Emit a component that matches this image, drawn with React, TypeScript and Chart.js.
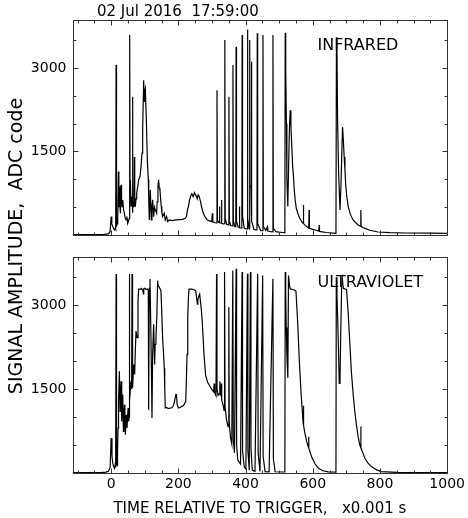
import { useEffect, useRef } from "react";
import { Chart, registerables } from "chart.js";

Chart.register(...registerables);

// ---- data (time in ms, ADC code) ----
const irTrace: [number, number][] = [
  [-115, 8], [-60, 8], [-20, 10], [-8, 20], [-3, 60], [0, 330], [2, 200], [5, 150], [8, 110], [10, 90],
  [12, 120], [13.5, 100], [14.7, 3050], [16, 150], [17.5, 200], [19.6, 270], [21.6, 1140], [23, 500],
  [24.5, 870], [26, 550], [27.5, 390], [29.5, 900], [31, 600], [32.5, 510], [34.5, 630], [37, 450],
  [39.4, 390], [42, 300], [44.4, 270], [47, 330], [49.3, 210], [52.3, 270], [54.2, 300], [55.2, 3590],
  [56.3, 600], [57.2, 990], [59.2, 510], [62.2, 690], [63.3, 400], [64.1, 2480], [65, 600], [66.1, 510],
  [68, 700], [69.1, 1400], [70.2, 700], [72, 510], [74, 650], [76, 750], [79, 870], [82, 990],
  [85.9, 1050], [88.9, 1230], [91.9, 1470], [93.8, 1890], [96.8, 2780], [98.5, 2400], [99.8, 2580],
  [101.7, 2630], [104.7, 2070], [107.7, 1350], [110.6, 990], [112, 600], [113.6, 270], [116.6, 810],
  [119.5, 270], [121.5, 500], [123.5, 630], [126.5, 330], [129, 500], [131.4, 450], [135.4, 390],
  [137, 600], [139.3, 870], [141.3, 990], [143, 850], [145.2, 810], [149.2, 510], [151, 400],
  [153.1, 330], [158, 390], [161, 270], [165, 330], [168, 240], [172.9, 270], [182, 260], [192.6, 270],
  [202, 275], [212.3, 280], [220, 300], [224.2, 330], [227, 450], [230, 510], [233, 620], [236.8, 700],
  [240, 740], [244, 690], [248, 760], [251, 720], [254, 690], [256, 650], [259, 720], [262, 690],
  [266, 600], [270, 480], [275, 380], [280, 320], [286, 270], [295, 250], [299.5, 240], [301, 390],
  [302.5, 235], [310, 220], [314, 215], [315, 2600], [316.3, 260], [320, 230], [322, 225], [322.6, 510],
  [323.3, 220], [327.8, 215], [328.5, 630], [329.3, 210], [334, 200], [337.5, 205], [338.3, 3500],
  [339.5, 300], [344, 190], [349.5, 180], [350.5, 2480], [351.7, 250], [356, 170], [361.5, 165],
  [362.5, 3050], [363.7, 260], [368, 150], [371, 150], [371.8, 3380], [373, 250], [378, 140],
  [381.2, 135], [381.8, 510], [382.5, 130], [389, 125], [389.8, 3590], [391, 350], [396, 120],
  [402, 110], [405, 110], [405.6, 3690], [406.8, 300], [411, 110], [412.4, 3500], [413.5, 900],
  [416.7, 850], [417.4, 3110], [418.6, 250], [425, 100], [431, 90], [434, 90], [434.8, 3620],
  [436, 200], [445, 80], [451, 80], [451.8, 3590], [453, 150], [460, 80], [465, 150], [466, 70],
  [475, 60], [480.7, 55], [481.5, 3590], [482.7, 120], [490, 60], [500, 50], [510, 45], [517, 40],
  [518, 3630], [519, 3470], [520, 3000], [521.5, 2000], [523, 1000], [525.8, 510], [528, 1200],
  [530.5, 1900], [532.8, 2240], [535, 1950], [537.7, 1580], [540, 1250], [542.6, 1050], [545, 800],
  [547.6, 630], [551, 480], [555.5, 390], [561, 300], [567.3, 240], [571, 210], [572, 540], [573, 205],
  [580, 160], [588, 125], [589, 450], [590, 120], [600, 100], [610, 85], [618, 70], [619, 180],
  [620, 65], [640, 45], [660, 35], [669, 30], [670.5, 3550], [672, 3300], [674, 2000], [677, 1100],
  [681, 450], [684, 900], [686.5, 1500], [688.7, 1940], [691, 1700], [693.5, 1400], [695.7, 1170],
  [698, 900], [701, 700], [705.5, 510], [712, 370], [720, 270], [728, 220], [735, 180], [742, 160],
  [743, 450], [744, 155], [750, 130], [755, 120], [770, 85], [794, 54], [830, 42], [877, 36],
  [950, 32], [1000, 30],
];

const uvTrace: [number, number][] = [
  [-115, 5], [-60, 5], [-30, 8], [-15, 15], [-8, 30], [-3, 100], [0, 623], [2.5, 300], [4.9, 174],
  [7, 120], [9.9, 84], [12, 150], [13.5, 100], [14.7, 3557], [16, 200], [17.7, 130], [19, 400],
  [20.6, 803], [22, 1300], [24.5, 1820], [26.5, 1102], [28, 1400], [29.5, 1640], [31.5, 922],
  [33, 1200], [34.5, 1401], [36.5, 743], [38, 1000], [39.4, 1221], [41, 900], [42.4, 683],
  [44.4, 1042], [46, 900], [47.3, 803], [50.3, 1162], [52.3, 922], [53.3, 1000], [54.2, 3557],
  [55.2, 1300], [56.2, 1401], [59.2, 1640], [61, 1500], [62.2, 3557], [63.3, 1600], [64.1, 1521],
  [67.1, 1940], [70, 1760], [72, 2200], [74, 2538], [77, 2420], [79.9, 3078], [81.9, 3287], [86, 3280],
  [90, 3300], [94, 3270], [96, 3200], [97, 3290], [100, 3300], [104, 3280], [108, 3290], [110.6, 3270],
  [111.6, 1132], [113.6, 3300], [115.6, 3467], [118.5, 2419], [120, 1800], [121.5, 982], [123.5, 2120],
  [126.5, 2658], [129.4, 1940], [131, 2300], [133.4, 2419], [136, 2800], [138.3, 3437], [140, 3350],
  [143.3, 3318], [148.2, 3258], [150.5, 2900], [153.1, 2419], [156, 2120], [158, 1880], [159.5, 1521],
  [161, 1162], [165, 1170], [170, 1150], [175, 1160], [180.6, 1165], [185, 1200], [188.5, 1281],
  [192.5, 1401], [194.3, 1400], [196.4, 1221], [200.4, 1162], [205, 1170], [210, 1190], [215, 1200],
  [222, 1281], [224, 1700], [226, 2120], [228, 2800], [230, 3138], [231.8, 3287], [240, 3285],
  [245, 3280], [251.6, 3258], [254, 3150], [256.6, 3018], [258, 3100], [261.4, 3168], [263.5, 3198],
  [266, 3050], [268, 2950], [271.3, 2690], [276.3, 2120], [281, 1750], [287, 1620], [293, 1560],
  [300, 1490], [305, 1450], [306.5, 1600], [308, 1440], [312, 1380], [313.7, 3557], [315, 1500],
  [318, 1390], [322, 1420], [323.5, 1640], [325, 1380], [327.5, 1600], [329, 1300], [333, 1220],
  [336, 1120], [337.5, 3590], [339, 1200], [343, 960], [348, 830], [350.2, 2960], [351.5, 900],
  [355, 640], [359, 520], [362, 3620], [363.5, 600], [367, 360], [371.9, 3650], [373.3, 500],
  [377, 230], [385, 160], [389.7, 3590], [391, 400], [396, 110], [401, 70], [405.5, 3560], [407, 400],
  [411, 50], [414.4, 3590], [416, 450], [420, 50], [428, 30], [436, 3560], [437.5, 350], [443, 30],
  [450.9, 3530], [452.3, 300], [458, 25], [470, 22], [481.4, 3470], [482.8, 250], [488, 22], [510, 18],
  [517, 18], [518, 3590], [519.5, 3200], [521, 2600], [523, 2100], [525.8, 1700], [527.8, 3530],
  [530.8, 3350], [533, 3290], [540, 3280], [545, 3270], [550, 3250], [555, 2700], [560, 2000],
  [565, 1450], [570, 1000], [571.5, 880], [572.2, 1200], [573, 850], [577, 700], [582, 560], [587, 460],
  [587.7, 650], [588.5, 450], [597, 280], [607, 160], [617, 85], [630, 40], [646, 20], [669, 15],
  [670, 3500], [672, 3200], [675.8, 2400], [678.8, 1600], [681, 1640], [683.5, 2600], [686, 3350],
  [688, 3467], [691, 3300], [695, 3290], [700.4, 3280], [705, 2900], [710.5, 2300], [715, 1800],
  [720.3, 1400], [725, 1100], [730, 860], [735, 650], [740, 500], [742.5, 460], [743, 830],
  [743.5, 450], [749, 360], [755, 263], [765, 170], [774.4, 114], [790, 55], [804, 24], [850, 12],
  [1000, 8],
];

const xTickValues = [0, 200, 400, 600, 800, 1000];
const yTickValues = [1500, 3000];
const xMinorStep = 50;
const yMinorStep = 500;
const panelNames = ["INFRARED", "ULTRAVIOLET"];
const dateText = "02 Jul 2016  17:59:00";
const xTitle = "TIME RELATIVE TO TRIGGER,   x0.001 s";
const yTitle = "SIGNAL AMPLITUDE,  ADC code";

const X_MIN = -115;
const X_MAX = 1000;
const Y_MAX = 3860;
const FONT = "'DejaVu Sans', sans-serif";

const framePlugin = {
  id: "panelFrames",
  afterDatasetsDraw(chart: any) {
    const ctx: CanvasRenderingContext2D = chart.ctx;
    const { left, right } = chart.chartArea;
    const xs = chart.scales.x;
    ctx.save();
    ctx.strokeStyle = "#333";
    ctx.lineWidth = 1;
    const seg = (x1: number, y1: number, x2: number, y2: number) => {
      ctx.beginPath();
      ctx.moveTo(x1, y1);
      ctx.lineTo(x2, y2);
      ctx.stroke();
    };
    ["yIR", "yUV"].forEach((id, i) => {
      const ys = chart.scales[id];
      const top = Math.round(ys.top) + 0.5;
      const bottom = Math.round(ys.bottom) + 0.5;
      const l = Math.round(left) + 0.5;
      const r = Math.round(right) + 0.5;
      ctx.strokeRect(l, top, r - l, bottom - top);
      for (let v = -100; v <= X_MAX; v += xMinorStep) {
        if (v <= X_MIN || v >= X_MAX) continue;
        const px = Math.round(xs.getPixelForValue(v)) + 0.5;
        const len = v % 200 === 0 ? 5 : 3;
        seg(px, bottom, px, bottom - len);
        seg(px, top, px, top + len);
      }
      for (let v = yMinorStep; v < Y_MAX; v += yMinorStep) {
        const py = Math.round(ys.getPixelForValue(v)) + 0.5;
        const len = v % 1500 === 0 ? 5 : 3;
        seg(l, py, l + len, py);
        seg(r, py, r - len, py);
      }
      ctx.fillStyle = "#000";
      ctx.font = `16px ${FONT}`;
      ctx.textAlign = "left";
      ctx.textBaseline = "middle";
      ctx.fillText(panelNames[i], xs.getPixelForValue(614), ys.getPixelForValue(3400));
    });
    ctx.font = `15px ${FONT}`;
    ctx.textAlign = "left";
    ctx.textBaseline = "middle";
    ctx.fillStyle = "#000";
    ctx.fillText(dateText, 97, 12.5);
    ctx.restore();
  },
};

const tickFont = { family: FONT, size: 14 };
const titleFont = { family: FONT, size: 15 };
const yTitleFont = { family: FONT, size: 19 };

function yScale(weight: number, stackWeight: number) {
  return {
    type: "linear",
    position: "left",
    stack: "panels",
    stackWeight,
    weight,
    min: 0,
    max: Y_MAX,
    grid: { display: false, drawTicks: false },
    border: { display: false },
    ticks: { font: tickFont, color: "#000", padding: 6, callback: (v: number) => String(v) },
    afterBuildTicks: (s: any) => {
      s.ticks = yTickValues.map((v) => ({ value: v }));
    },
    afterFit: (s: any) => {
      s.width = 64;
    },
  };
}

export default function App() {
  const ref = useRef<HTMLCanvasElement>(null);
  useEffect(() => {
    const chart = new Chart(ref.current as HTMLCanvasElement, {
      type: "line",
      data: {
        datasets: [
          {
            data: irTrace.map(([x, y]) => ({ x, y })),
            yAxisID: "yIR",
            borderColor: "#000",
            borderWidth: 1.2,
            pointRadius: 0,
            tension: 0,
            fill: false,
          },
          {
            data: uvTrace.map(([x, y]) => ({ x, y })),
            yAxisID: "yUV",
            borderColor: "#000",
            borderWidth: 1.2,
            pointRadius: 0,
            tension: 0,
            fill: false,
          },
        ],
      },
      options: {
        animation: false,
        responsive: false,
        maintainAspectRatio: false,
        events: [],
        layout: { padding: { left: 8.5, right: 18, top: 20, bottom: 0 } },
        plugins: { legend: { display: false }, tooltip: { enabled: false }, title: { display: false } },
        scales: {
          x: {
            type: "linear",
            position: "bottom",
            min: X_MIN,
            max: X_MAX,
            grid: { display: false, drawTicks: false },
            border: { display: false },
            ticks: {
              font: tickFont,
              color: "#000",
              padding: 3,
              maxRotation: 0,
              autoSkip: false,
              callback: (v: number) => String(v),
            },
            afterBuildTicks: (s: any) => {
              s.ticks = xTickValues.map((v) => ({ value: v }));
            },
            title: { display: true, text: xTitle, font: titleFont, color: "#000", padding: { top: 0, bottom: 0 } },
            afterFit: (s: any) => {
              s.height = 45;
            },
          },
          yIR: yScale(3, 215),
          ySpacer: {
            type: "linear",
            position: "left",
            stack: "panels",
            stackWeight: 22,
            weight: 2,
            min: 0,
            max: 1,
            grid: { display: false, drawTicks: false },
            border: { display: false },
            ticks: { display: false },
            title: { display: true, text: yTitle, font: yTitleFont, color: "#000", padding: { top: -3, bottom: 0 } },
            afterFit: (s: any) => {
              s.width = 64;
            },
          },
          yUV: yScale(1, 216),
        },
      } as any,
      plugins: [framePlugin],
    });
    return () => chart.destroy();
  }, []);
  return (
    <div style={{ position: "fixed", left: 0, top: 0, width: 468, height: 518, background: "#fff" }}>
      <canvas ref={ref} width={468} height={518} style={{ display: "block", width: 468, height: 518 }} />
    </div>
  );
}
